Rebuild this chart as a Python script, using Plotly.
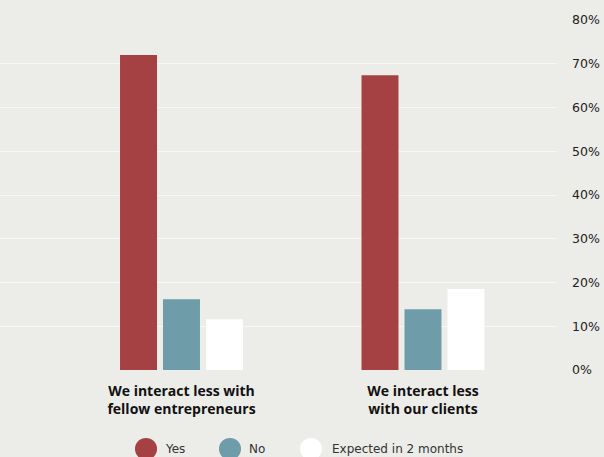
import plotly.graph_objects as go

categories = ["<b>We interact less with<br>fellow entrepreneurs</b>", "<b>We interact less<br>with our clients</b>"]
series_names = ["Yes", "No", "Expected in 2 months"]
yes_values = [0.72, 0.674]
no_values = [0.162, 0.139]
expected_values = [0.116, 0.185]
tick_values = [0, 0.1, 0.2, 0.3, 0.4, 0.5, 0.6, 0.7, 0.8]
tick_labels = ["0%", "10%", "20%", "30%", "40%", "50%", "60%", "70%", "80%"]

colors = ["#a54143", "#6e9ca8", "#ffffff"]
bg = "#ecece8"
FONT = "Open Sans"
FONT2 = "DejaVu Sans"

fig = go.Figure()
for name, vals, col in zip(series_names, [yes_values, no_values, expected_values], colors):
    fig.add_trace(go.Bar(x=categories, y=vals, name=name, marker=dict(color=col, line=dict(width=0)),
                         showlegend=False))

fig.update_layout(
    width=604, height=457,
    margin=dict(l=0, r=47, t=19.5, b=87),
    paper_bgcolor=bg, plot_bgcolor=bg,
    barmode="group", bargap=0.466, bargroupgap=0.14,
    font=dict(family=FONT, color="#222222"),
    xaxis=dict(range=[-0.7516, 1.555], showgrid=False, zeroline=False, showline=False,
               ticks="", tickfont=dict(size=14, color="#111111", family=FONT),
               ticklabelstandoff=11),
    yaxis=dict(side="right", range=[0, 0.8], tickvals=tick_values, ticktext=tick_labels,
               showgrid=True, gridcolor="#f7f7f4", gridwidth=1, zeroline=False, showline=False,
               ticks="", tickfont=dict(size=12.5, color="#222222", family=FONT2), ticklabelstandoff=14),
)

# custom legend (circular swatches)
plot_h = 457 - 19.5 - 87
def py(pix):
    return (457 - 87 - pix) / plot_h
plot_w = 604 - 47
leg_y = py(449)
legend_items = [(146, 163), (230, 247), (311, 330)]
for (cx, tx), name, col in zip(legend_items, series_names, colors):
    fig.add_shape(type="circle", xref="paper", yref="paper", xsizemode="pixel", ysizemode="pixel",
                  xanchor=cx / plot_w, yanchor=leg_y, x0=-11, x1=11, y0=-11, y1=11,
                  fillcolor=col, line=dict(width=0))
    fig.add_annotation(xref="paper", yref="paper", x=tx / plot_w, y=leg_y, text=name,
                       showarrow=False, xanchor="left", yanchor="middle",
                       font=dict(size=12, color="#333333", family=FONT2))

fig.write_html("out.html")
